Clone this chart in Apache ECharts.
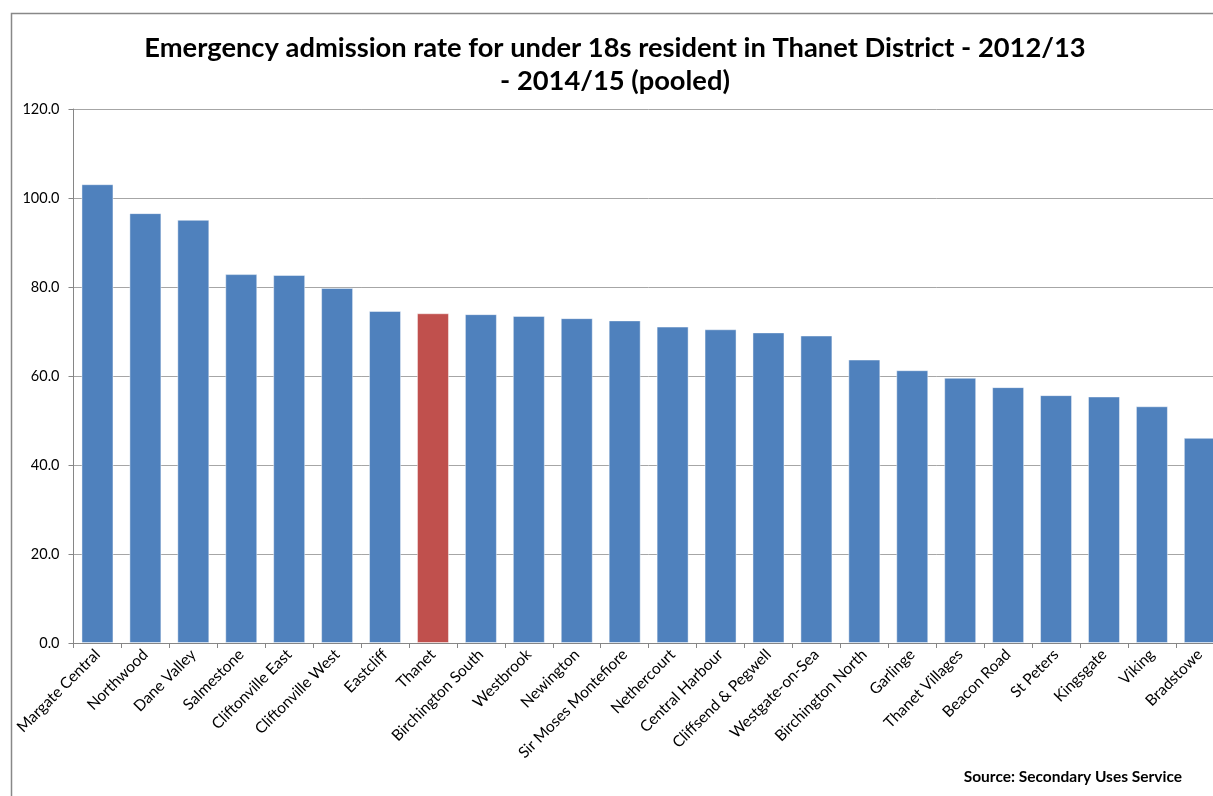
<!DOCTYPE html>
<html>
<head>
<meta charset="utf-8">
<script src="https://cdn.jsdelivr.net/npm/echarts@6/dist/echarts.min.js"></script>
<style>html,body{margin:0;padding:0;background:#fff;overflow:hidden;width:1213px;height:796px;}#c{width:1230px;height:796px;}</style>
</head>
<body>
<div id="c"></div>
<script>
const categories = ["Margate Central","Northwood","Dane Valley","Salmestone","Cliftonville East","Cliftonville West","Eastcliff","Thanet","Birchington South","Westbrook","Newington","Sir Moses Montefiore","Nethercourt","Central Harbour","Cliffsend & Pegwell","Westgate-on-Sea","Birchington North","Garlinge","Thanet Villages","Beacon Road","St Peters","Kingsgate","Viking","Bradstowe"];
const values = [103.1,96.6,95.1,82.9,82.7,79.8,74.6,74.1,73.9,73.5,73.0,72.5,71.1,70.5,69.8,69.1,63.7,61.3,59.6,57.5,55.7,55.4,53.2,46.1];
const highlight = "Thanet";
const yTicks = {min:0, max:120, interval:20};
const titleText = "Emergency admission rate for under 18s resident in Thanet District - 2012/13\n- 2014/15 (pooled)";
const sourceText = "Source: Secondary Uses Service";

const FONT = "Lato, 'Open Sans', sans-serif";
const chart = echarts.init(document.getElementById('c'));
chart.setOption({
  animation:false,
  backgroundColor:'#fff',
  title:{
    text:titleText, left:'center', top:27,
    textStyle:{fontFamily:FONT, fontWeight:'bold', fontSize:27.3, lineHeight:33, color:'#000'}
  },
  grid:{left:73.5, top:109, width:1150.3, height:534, containLabel:false},
  xAxis:{
    type:'category', data:categories,
    axisLine:{lineStyle:{color:'#868686', width:1}},
    axisTick:{show:true, alignWithLabel:false, length:5, lineStyle:{color:'#868686'}},
    axisLabel:{rotate:45, interval:0, margin:9, fontFamily:FONT, fontSize:15.5, color:'#000'}
  },
  yAxis:{
    type:'value', min:yTicks.min, max:yTicks.max, interval:yTicks.interval,
    axisLine:{show:true, lineStyle:{color:'#868686', width:1}},
    axisTick:{show:true, length:5, lineStyle:{color:'#868686'}},
    axisLabel:{margin:14, fontFamily:FONT, fontSize:14.5, color:'#000', formatter:v=>v.toFixed(1)},
    splitLine:{show:true, lineStyle:{color:'#A6A6A6', width:1}}
  },
  series:[{
    type:'bar', barWidth:32,
    data:values.map((v,i)=>({value:v, itemStyle:{color: categories[i]===highlight ? '#C0504D' : '#4F81BD'}})),
    itemStyle:{borderColor:'rgba(255,255,255,0.45)', borderWidth:1}
  }],
  graphic:[
    {type:'rect', shape:{x:11.5, y:13.5, width:1400, height:1000}, style:{fill:null, stroke:'#888888', lineWidth:1.5}, z:100},
    {type:'text', right:48, top:769, style:{text:sourceText, font:"bold 15.5px "+FONT, fill:'#000'}}
  ]
});
</script>
</body>
</html>
